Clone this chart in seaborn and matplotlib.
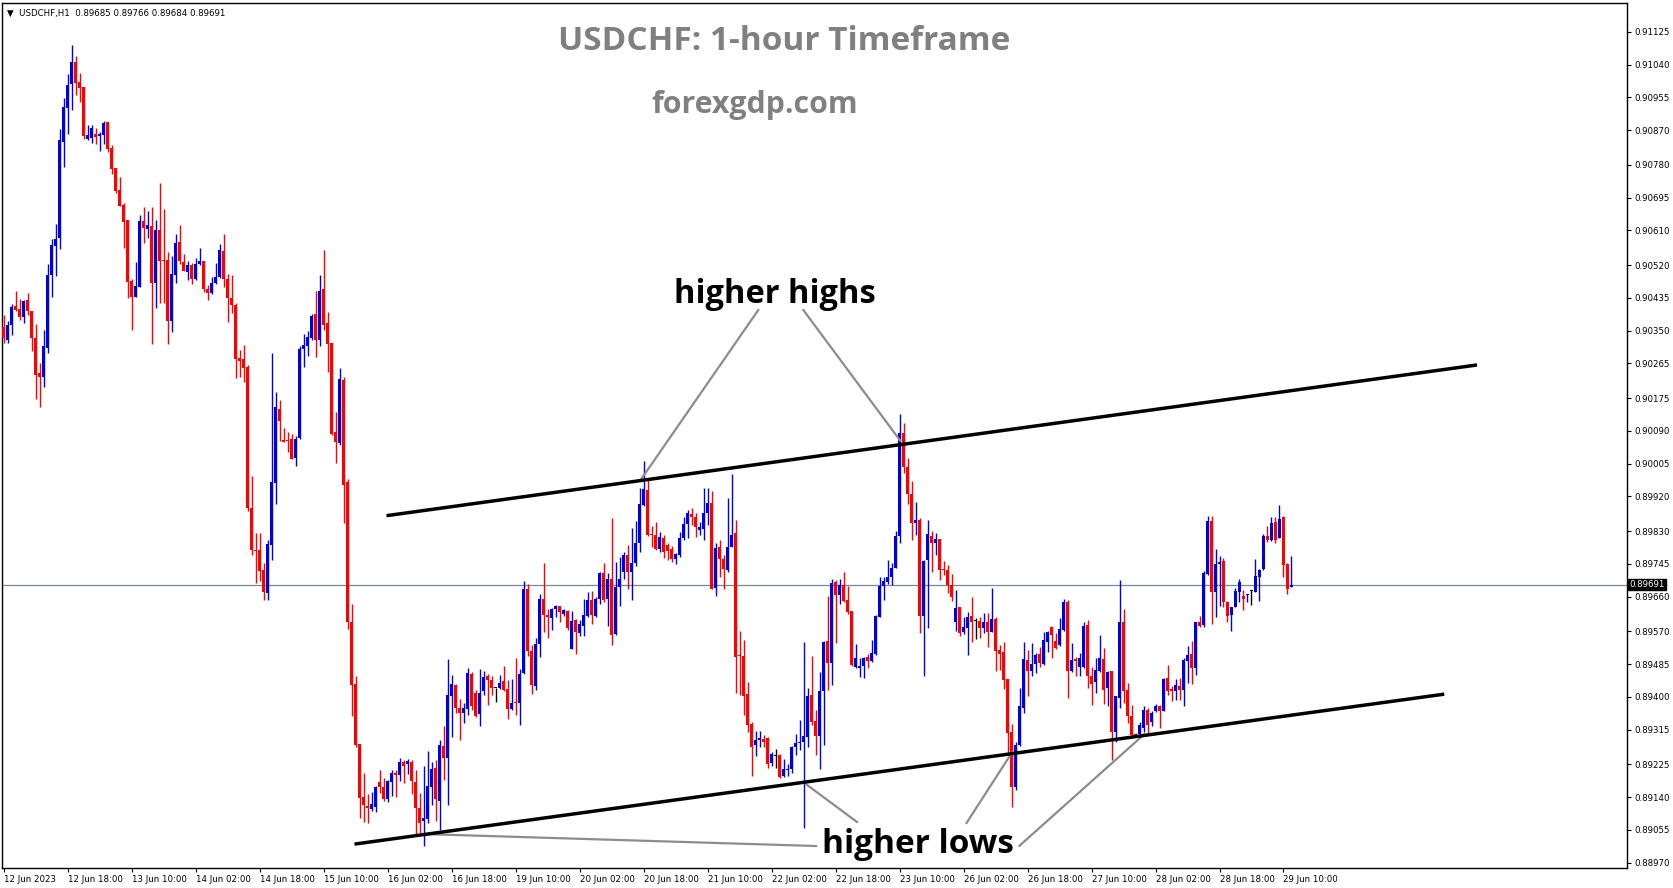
import matplotlib
matplotlib.use("Agg")
import matplotlib.pyplot as plt
import seaborn as sns
import numpy as np
import pandas as pd

# ---------------- data (USDCHF H1, prices) ----------------
opens = [0.90360,0.90327,0.90364,0.90414,0.90407,0.90386,0.90429,0.90401,0.90330,0.90239,
0.90230,0.90306,0.90494,0.90570,0.90591,0.90840,0.90927,0.90989,0.91047,0.90995,
0.90982,0.90847,0.90849,0.90860,0.90855,0.90857,0.90891,0.90825,0.90772,0.90715,
0.90676,0.90637,0.90479,0.90438,0.90464,0.90634,0.90614,0.90621,0.90474,0.90611,
0.90533,0.90533,0.90376,0.90495,0.90580,0.90528,0.90503,0.90520,0.90483,0.90522,
0.90530,0.90459,0.90447,0.90474,0.90489,0.90556,0.90485,0.90434,0.90417,0.90278,
0.90276,0.90256,0.89889,0.89781,0.89781,0.89730,0.89670,0.89795,0.89954,0.90148,
0.90067,0.90066,0.90070,0.90020,0.90072,0.90303,0.90311,0.90330,0.90392,0.90325,
0.90457,0.90369,0.90317,0.90087,0.90058,0.90221,0.89957,0.89594,0.89434,0.89278,
0.89141,0.89118,0.89109,0.89114,0.89178,0.89167,0.89136,0.89180,0.89202,0.89198,
0.89232,0.89227,0.89232,0.89180,0.89112,0.89077,0.89084,0.89165,0.89215,0.89131,
0.89273,0.89242,0.89402,0.89432,0.89372,0.89359,0.89368,0.89460,0.89411,0.89356,
0.89415,0.89454,0.89445,0.89423,0.89423,0.89441,0.89420,0.89368,0.89385,0.89383,
0.89461,0.89679,0.89520,0.89428,0.89537,0.89655,0.89612,0.89605,0.89629,0.89635,
0.89616,0.89623,0.89525,0.89599,0.89566,0.89584,0.89609,0.89651,0.89610,0.89653,
0.89722,0.89653,0.89707,0.89562,0.89684,0.89723,0.89769,0.89724,0.89746,0.89800,
0.89897,0.89936,0.89822,0.89821,0.89783,0.89811,0.89795,0.89783,0.89757,0.89768,
0.89811,0.89848,0.89874,0.89866,0.89834,0.89835,0.89878,0.89904,0.89683,0.89788,
0.89757,0.89729,0.89789,0.89824,0.89508,0.89507,0.89407,0.89329,0.89275,0.89289,
0.89291,0.89292,0.89229,0.89247,0.89249,0.89194,0.89210,0.89213,0.89269,0.89281,
0.89283,0.89296,0.89404,0.89338,0.89299,0.89415,0.89545,0.89488,0.89699,0.89664,
0.89690,0.89651,0.89622,0.89478,0.89476,0.89480,0.89504,0.89494,0.89511,0.89608,
0.89687,0.89699,0.89712,0.89735,0.89816,0.90085,0.89995,0.89925,0.89850,0.89860,
0.89611,0.89755,0.89818,0.89800,0.89809,0.89731,0.89729,0.89690,0.89595,0.89632,
0.89569,0.89578,0.89610,0.89597,0.89597,0.89578,0.89594,0.89569,0.89602,0.89522,
0.89517,0.89446,0.89308,0.89167,0.89275,0.89370,0.89496,0.89468,0.89485,0.89510,
0.89485,0.89543,0.89581,0.89546,0.89535,0.89574,0.89645,0.89468,0.89498,0.89478,
0.89477,0.89587,0.89454,0.89438,0.89468,0.89498,0.89422,0.89466,0.89310,0.89398,
0.89594,0.89418,0.89351,0.89303,0.89303,0.89319,0.89366,0.89336,0.89362,0.89377,
0.89363,0.89450,0.89421,0.89414,0.89428,0.89418,0.89494,0.89511,0.89474,0.89593,
0.89587,0.89719,0.89857,0.89671,0.89744,0.89753,0.89645,0.89613,0.89634,0.89673,
0.89662,0.89663,0.89675,0.89673,0.89712,0.89732,0.89818,0.89807,0.89853,0.89813,
0.89866,0.89744,0.89685]

highs = [0.90390,0.90375,0.90419,0.90454,0.90432,0.90429,0.90448,0.90401,0.90367,0.90267,
0.90351,0.90523,0.90589,0.90627,0.90874,0.90953,0.91017,0.91091,0.91062,0.91019,
0.90982,0.90883,0.90883,0.90875,0.90866,0.90893,0.90891,0.90831,0.90772,0.90748,
0.90681,0.90637,0.90485,0.90529,0.90651,0.90671,0.90660,0.90671,0.90637,0.90733,
0.90665,0.90554,0.90544,0.90601,0.90624,0.90549,0.90531,0.90526,0.90538,0.90564,
0.90531,0.90468,0.90488,0.90526,0.90575,0.90601,0.90497,0.90494,0.90422,0.90301,
0.90313,0.90261,0.89972,0.89826,0.89826,0.89746,0.89806,0.90293,0.90191,0.90171,
0.90097,0.90088,0.90083,0.90078,0.90311,0.90342,0.90350,0.90394,0.90452,0.90494,
0.90558,0.90399,0.90319,0.90140,0.90253,0.90229,0.89965,0.89642,0.89454,0.89278,
0.89202,0.89149,0.89154,0.89170,0.89210,0.89190,0.89185,0.89210,0.89210,0.89242,
0.89235,0.89240,0.89235,0.89210,0.89150,0.89220,0.89260,0.89232,0.89235,0.89288,
0.89325,0.89497,0.89456,0.89434,0.89394,0.89383,0.89475,0.89465,0.89417,0.89471,
0.89466,0.89458,0.89454,0.89423,0.89456,0.89479,0.89443,0.89446,0.89501,0.89473,
0.89700,0.89694,0.89534,0.89553,0.89668,0.89748,0.89629,0.89631,0.89639,0.89636,
0.89629,0.89625,0.89622,0.89603,0.89600,0.89655,0.89672,0.89674,0.89659,0.89724,
0.89748,0.89720,0.89863,0.89750,0.89763,0.89776,0.89793,0.89837,0.89857,0.89941,
0.90011,0.89962,0.89844,0.89854,0.89828,0.89819,0.89800,0.89791,0.89774,0.89828,
0.89866,0.89885,0.89889,0.89876,0.89854,0.89943,0.89943,0.89935,0.89798,0.89808,
0.89768,0.89915,0.89978,0.89859,0.89571,0.89547,0.89439,0.89335,0.89311,0.89311,
0.89301,0.89295,0.89257,0.89264,0.89253,0.89240,0.89227,0.89273,0.89303,0.89340,
0.89543,0.89424,0.89506,0.89367,0.89465,0.89545,0.89661,0.89705,0.89703,0.89707,
0.89725,0.89687,0.89622,0.89537,0.89502,0.89504,0.89511,0.89547,0.89612,0.89712,
0.89712,0.89755,0.89747,0.89831,0.90133,0.90110,0.90020,0.89960,0.89905,0.89865,
0.89755,0.89859,0.89829,0.89824,0.89809,0.89753,0.89742,0.89718,0.89677,0.89634,
0.89608,0.89619,0.89658,0.89604,0.89608,0.89617,0.89617,0.89683,0.89608,0.89535,
0.89542,0.89446,0.89330,0.89284,0.89424,0.89543,0.89522,0.89539,0.89513,0.89530,
0.89569,0.89571,0.89585,0.89565,0.89604,0.89653,0.89651,0.89539,0.89504,0.89513,
0.89593,0.89600,0.89478,0.89500,0.89561,0.89526,0.89467,0.89468,0.89401,0.89703,
0.89628,0.89435,0.89379,0.89306,0.89336,0.89377,0.89370,0.89363,0.89381,0.89379,
0.89450,0.89483,0.89427,0.89447,0.89448,0.89500,0.89533,0.89546,0.89595,0.89611,
0.89727,0.89870,0.89868,0.89784,0.89766,0.89760,0.89649,0.89634,0.89682,0.89706,
0.89676,0.89667,0.89677,0.89757,0.89732,0.89822,0.89844,0.89866,0.89866,0.89898,
0.89868,0.89747,0.89766]

lows = [0.90317,0.90317,0.90338,0.90401,0.90377,0.90370,0.90390,0.90298,0.90172,0.90152,
0.90204,0.90291,0.90438,0.90492,0.90562,0.90775,0.90860,0.90922,0.90961,0.90944,
0.90846,0.90844,0.90838,0.90835,0.90817,0.90835,0.90814,0.90756,0.90708,0.90674,
0.90564,0.90435,0.90352,0.90438,0.90462,0.90578,0.90590,0.90316,0.90409,0.90422,
0.90422,0.90316,0.90347,0.90474,0.90524,0.90505,0.90481,0.90472,0.90481,0.90520,
0.90450,0.90430,0.90445,0.90472,0.90486,0.90462,0.90373,0.90397,0.90226,0.90231,
0.90216,0.89881,0.89768,0.89695,0.89700,0.89650,0.89650,0.89756,0.89899,0.90063,
0.90060,0.90035,0.90017,0.90000,0.90070,0.90256,0.90285,0.90326,0.90281,0.90311,
0.90352,0.90244,0.90080,0.90007,0.90053,0.89852,0.89577,0.89351,0.89270,0.89087,
0.89076,0.89074,0.89104,0.89101,0.89151,0.89129,0.89126,0.89144,0.89139,0.89182,
0.89177,0.89200,0.89149,0.89044,0.89046,0.89014,0.89074,0.89119,0.89079,0.89054,
0.89184,0.89119,0.89296,0.89359,0.89287,0.89331,0.89352,0.89365,0.89348,0.89325,
0.89406,0.89380,0.89406,0.89387,0.89421,0.89416,0.89342,0.89365,0.89352,0.89326,
0.89460,0.89505,0.89408,0.89417,0.89504,0.89569,0.89553,0.89573,0.89607,0.89595,
0.89610,0.89573,0.89524,0.89511,0.89557,0.89557,0.89607,0.89588,0.89607,0.89640,
0.89646,0.89584,0.89534,0.89560,0.89636,0.89705,0.89679,0.89651,0.89740,0.89776,
0.89896,0.89818,0.89789,0.89780,0.89776,0.89759,0.89755,0.89750,0.89744,0.89763,
0.89807,0.89813,0.89846,0.89815,0.89820,0.89807,0.89846,0.89679,0.89661,0.89712,
0.89681,0.89725,0.89788,0.89411,0.89405,0.89353,0.89309,0.89195,0.89246,0.89270,
0.89270,0.89216,0.89220,0.89216,0.89190,0.89191,0.89194,0.89203,0.89249,0.89262,
0.89061,0.89270,0.89327,0.89249,0.89214,0.89275,0.89417,0.89430,0.89539,0.89641,
0.89647,0.89616,0.89480,0.89476,0.89452,0.89449,0.89475,0.89491,0.89508,0.89608,
0.89651,0.89694,0.89689,0.89734,0.89800,0.89980,0.89900,0.89807,0.89820,0.89565,
0.89455,0.89578,0.89725,0.89768,0.89703,0.89715,0.89669,0.89649,0.89571,0.89558,
0.89562,0.89509,0.89542,0.89550,0.89552,0.89565,0.89530,0.89568,0.89467,0.89470,
0.89421,0.89254,0.89115,0.89158,0.89273,0.89357,0.89403,0.89455,0.89461,0.89478,
0.89483,0.89517,0.89502,0.89524,0.89533,0.89571,0.89396,0.89465,0.89453,0.89453,
0.89474,0.89424,0.89379,0.89409,0.89464,0.89381,0.89375,0.89236,0.89284,0.89372,
0.89383,0.89331,0.89297,0.89299,0.89297,0.89310,0.89301,0.89325,0.89360,0.89319,
0.89362,0.89405,0.89388,0.89392,0.89392,0.89375,0.89435,0.89434,0.89457,0.89582,
0.89582,0.89715,0.89589,0.89608,0.89636,0.89632,0.89593,0.89572,0.89634,0.89645,
0.89626,0.89647,0.89637,0.89671,0.89649,0.89729,0.89803,0.89805,0.89799,0.89812,
0.89712,0.89666,0.89684]

closes = [0.90332,0.90364,0.90412,0.90403,0.90386,0.90427,0.90402,0.90330,0.90236,0.90230,
0.90310,0.90494,0.90572,0.90589,0.90844,0.90931,0.90987,0.91047,0.90993,0.90980,
0.90856,0.90857,0.90876,0.90853,0.90860,0.90889,0.90822,0.90770,0.90712,0.90674,
0.90633,0.90477,0.90438,0.90466,0.90634,0.90617,0.90624,0.90474,0.90611,0.90531,
0.90531,0.90376,0.90497,0.90578,0.90531,0.90505,0.90520,0.90483,0.90523,0.90531,
0.90459,0.90447,0.90473,0.90489,0.90559,0.90485,0.90435,0.90417,0.90276,0.90271,
0.90253,0.89889,0.89780,0.89778,0.89726,0.89673,0.89796,0.89957,0.90152,0.90115,
0.90062,0.90064,0.90018,0.90070,0.90303,0.90313,0.90334,0.90387,0.90325,0.90454,
0.90364,0.90315,0.90083,0.90062,0.90225,0.89949,0.89594,0.89431,0.89275,0.89138,
0.89119,0.89111,0.89122,0.89165,0.89165,0.89136,0.89182,0.89202,0.89198,0.89232,
0.89220,0.89234,0.89182,0.89112,0.89074,0.89087,0.89170,0.89213,0.89134,0.89275,
0.89242,0.89404,0.89434,0.89371,0.89359,0.89370,0.89463,0.89377,0.89351,0.89411,
0.89451,0.89443,0.89423,0.89423,0.89437,0.89417,0.89368,0.89385,0.89383,0.89460,
0.89679,0.89518,0.89430,0.89537,0.89655,0.89612,0.89606,0.89629,0.89635,0.89619,
0.89625,0.89579,0.89597,0.89569,0.89588,0.89612,0.89651,0.89612,0.89655,0.89722,
0.89650,0.89705,0.89560,0.89684,0.89707,0.89769,0.89724,0.89746,0.89800,0.89899,
0.89938,0.89819,0.89819,0.89783,0.89815,0.89776,0.89778,0.89757,0.89770,0.89813,
0.89848,0.89876,0.89866,0.89840,0.89841,0.89878,0.89904,0.89681,0.89785,0.89758,
0.89731,0.89788,0.89821,0.89504,0.89506,0.89403,0.89327,0.89270,0.89289,0.89294,
0.89283,0.89227,0.89251,0.89247,0.89193,0.89212,0.89213,0.89270,0.89281,0.89283,
0.89298,0.89402,0.89335,0.89299,0.89415,0.89543,0.89488,0.89696,0.89664,0.89690,
0.89649,0.89621,0.89482,0.89500,0.89480,0.89500,0.89494,0.89513,0.89609,0.89687,
0.89700,0.89712,0.89735,0.89816,0.90085,0.89995,0.89925,0.89850,0.89860,0.89611,
0.89753,0.89822,0.89799,0.89809,0.89728,0.89728,0.89689,0.89660,0.89630,0.89565,
0.89580,0.89608,0.89594,0.89597,0.89578,0.89594,0.89567,0.89602,0.89520,0.89511,
0.89444,0.89305,0.89167,0.89275,0.89375,0.89498,0.89468,0.89485,0.89509,0.89487,
0.89548,0.89569,0.89561,0.89528,0.89576,0.89645,0.89468,0.89496,0.89494,0.89502,
0.89584,0.89453,0.89433,0.89470,0.89500,0.89418,0.89464,0.89310,0.89401,0.89593,
0.89415,0.89351,0.89301,0.89301,0.89327,0.89366,0.89327,0.89359,0.89377,0.89362,
0.89447,0.89416,0.89414,0.89431,0.89418,0.89496,0.89509,0.89476,0.89593,0.89585,
0.89721,0.89857,0.89673,0.89744,0.89751,0.89645,0.89611,0.89632,0.89675,0.89697,
0.89654,0.89667,0.89675,0.89714,0.89729,0.89818,0.89807,0.89850,0.89807,0.89862,
0.89741,0.89680,0.89691]

x_tick_labels = ["12 Jun 2023", "12 Jun 18:00", "13 Jun 10:00", "14 Jun 02:00", "14 Jun 18:00",
                 "15 Jun 10:00", "16 Jun 02:00", "16 Jun 18:00", "19 Jun 10:00", "20 Jun 02:00",
                 "20 Jun 18:00", "21 Jun 10:00", "22 Jun 02:00", "22 Jun 18:00", "23 Jun 10:00",
                 "26 Jun 02:00", "26 Jun 18:00", "27 Jun 10:00", "28 Jun 02:00", "28 Jun 18:00",
                 "29 Jun 10:00"]
x_tick_bars = [0, 16, 32, 48, 64, 80, 96, 112, 128, 144, 160, 176, 192, 208, 224,
               240, 256, 272, 288, 304, 320]

y_tick_values = [0.91125, 0.91040, 0.90955, 0.90870, 0.90780, 0.90695, 0.90610, 0.90520,
                 0.90435, 0.90350, 0.90265, 0.90175, 0.90090, 0.90005, 0.89920, 0.89830,
                 0.89745, 0.89660, 0.89570, 0.89485, 0.89400, 0.89315, 0.89225, 0.89140,
                 0.89055, 0.88970]

current_price = 0.89691
header = "USDCHF,H1  0.89685 0.89766 0.89684 0.89691"

# channel lines (bar index, price)
upper_channel = [(95.7, 0.89870), (368.4, 0.90261)]
lower_channel = [(87.7, 0.89018), (360.2, 0.89407)]
# pointer lines
hh_pointers = [[(188.7, 0.90404), (159.2, 0.89962)],
               [(199.9, 0.90404), (224.2, 0.90064)]]
hl_pointers = [[(203.2, 0.89013), (105.2, 0.89044)],
               [(213.4, 0.89075), (199.9, 0.89179)],
               [(240.7, 0.89072), (252.2, 0.89257)],
               [(253.9, 0.89013), (285.2, 0.89303)]]

# ---------------- figure ----------------
sns.set_theme(style="white")
plt.rcParams['font.family'] = ['DejaVu Sans']

df = pd.DataFrame({"open": opens, "high": highs, "low": lows, "close": closes})
df["bar"] = np.arange(len(df))
df["color"] = np.where(df["close"] > df["open"], "#0000E6",
                       np.where(df["close"] < df["open"], "#FF0000", "#000000"))

W, H = 1673, 888
fig = plt.figure(figsize=(W / 100, H / 100), dpi=100)
fig.patch.set_facecolor("white")
ax = fig.add_axes([2 / W, 1 - 868 / H, (1627 - 2) / W, (868 - 3) / H])
ax.set_facecolor("white")

# wicks
ax.vlines(df["bar"], df["low"], df["high"], colors=df["color"], linewidth=1.0, zorder=3)
# bodies
body_bottom = np.minimum(df["open"], df["close"])
body_h = np.maximum(np.abs(df["close"] - df["open"]), 0.000028)
ax.bar(df["bar"], body_h, bottom=body_bottom, width=0.8, color=df["color"],
       linewidth=0, zorder=4)

# current price line
ax.axhline(current_price, color="#778899", linewidth=0.9, zorder=1)

# channel lines
for ln in (upper_channel, lower_channel):
    ax.plot([p[0] for p in ln], [p[1] for p in ln], color="black", linewidth=2.5,
            solid_capstyle="butt", zorder=6)
for ln in hh_pointers + hl_pointers:
    ax.plot([p[0] for p in ln], [p[1] for p in ln], color="#8c8c8c", linewidth=1.6, zorder=5)

ax.text(192.9, 0.90445, "higher highs", fontsize=23.5, fontweight="bold", family="Open Sans",
        color="black", ha="center", va="center", zorder=7)
ax.text(228.7, 0.89017, "higher lows", fontsize=24, fontweight="bold", family="Open Sans",
        color="black", ha="center", va="center", zorder=7)

ax.text(0.481, 0.9555, "USDCHF: 1-hour Timeframe", transform=ax.transAxes, fontsize=24,
        fontweight="bold", family="Open Sans", color="#808080", ha="center", va="center")
ax.text(0.463, 0.882, "forexgdp.com", transform=ax.transAxes, fontsize=21.8,
        fontweight="bold", family="Open Sans", color="#808080", ha="center", va="center")
ax.text(0.003, 0.988, "\u25BC  " + header, transform=ax.transAxes, fontsize=6.2,
        color="black", ha="left", va="center")

# axes limits
ax.set_xlim(-0.45, 405.9)
ax.set_ylim(0.88956, 0.91200)

# ticks
ax.yaxis.tick_right()
ax.set_yticks(y_tick_values)
ax.set_yticklabels([f"{v:.5f}" for v in y_tick_values], fontsize=6.2)
ax.set_xticks(x_tick_bars)
ax.set_xticklabels(x_tick_labels, fontsize=6.2, ha="left")
ax.tick_params(axis="both", direction="out", length=3, width=0.8, color="black",
               labelcolor="black", pad=2)
ax.tick_params(axis="y", right=True, left=False, labelright=True, labelleft=False)
ax.tick_params(axis="x", bottom=True)
for s in ax.spines.values():
    s.set_color("black")
    s.set_linewidth(1.0)
    s.set_visible(True)
ax.grid(False)

# current price tag
ax.text(1.0 + 2 / 1625, current_price, "0.89691", transform=ax.get_yaxis_transform(),
        fontsize=6.2, color="white", ha="left", va="center", zorder=10,
        bbox=dict(boxstyle="square,pad=0.15", facecolor="black", edgecolor="black"),
        clip_on=False)

fig.savefig("out.png", dpi=100, facecolor="white")
